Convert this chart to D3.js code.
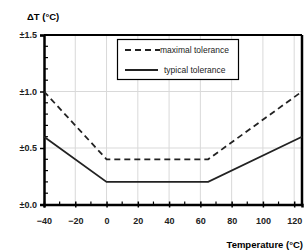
<!DOCTYPE html>
<html><head><meta charset="utf-8">
<script src="https://cdn.jsdelivr.net/npm/d3@7"></script>
<style>body{margin:0;background:#fff}svg{display:block}text{font-family:"Liberation Sans",Arial,sans-serif}</style>
</head><body><svg id="c" width="304" height="250"></svg>
<script>
const temps = [-40, 0, 65, 125];
const maximalTol = [1.0, 0.4, 0.4, 1.0];
const typicalTol = [0.6, 0.2, 0.2, 0.6];
const xTicks = [-40, -20, 0, 20, 40, 60, 80, 100, 120];
const yTicks = [0, 0.5, 1.0, 1.5];
const yTickLabels = ["±0.0", "±0.5", "±1.0", "±1.5"];
const seriesNames = ["maximal tolerance", "typical tolerance"];

const svg = d3.select("#c");
const x = d3.scaleLinear().domain([-40, 125]).range([44, 302]);
const y = d3.scaleLinear().domain([0, 1.5]).range([204.5, 35]);

// gridlines
svg.append("g").selectAll("line").data(xTicks.slice(1)).join("line")
  .attr("x1", d => x(d)).attr("x2", d => x(d)).attr("y1", y(0)).attr("y2", y(1.5))
  .attr("stroke", "#d9d9d9").attr("stroke-width", 1);
svg.append("g").selectAll("line").data([0.5, 1.0]).join("line")
  .attr("x1", x(-40)).attr("x2", x(125)).attr("y1", d => y(d)).attr("y2", d => y(d))
  .attr("stroke", "#d9d9d9").attr("stroke-width", 1);

// frame top/right
svg.append("line").attr("x1", x(-40)).attr("x2", x(125)).attr("y1", y(1.5)).attr("y2", y(1.5)).attr("stroke", "#000").attr("stroke-width", 2);
svg.append("line").attr("x1", x(125)).attr("x2", x(125)).attr("y1", y(1.5)).attr("y2", y(0)).attr("stroke", "#000").attr("stroke-width", 2.5);

// minor ticks
const xMinor = d3.range(-30, 125, 20);
svg.append("g").selectAll("line").data(xMinor).join("line")
  .attr("x1", d => x(d)).attr("x2", d => x(d)).attr("y1", y(0)).attr("y2", y(0) - 3)
  .attr("stroke", "#000").attr("stroke-width", 1.2);
const yMinor = d3.range(0.1, 1.5, 0.1).filter(v => Math.abs(v * 2 - Math.round(v * 2)) > 0.01);
svg.append("g").selectAll("line").data(yMinor).join("line")
  .attr("x1", x(-40)).attr("x2", x(-40) + 4).attr("y1", d => y(d)).attr("y2", d => y(d))
  .attr("stroke", "#000").attr("stroke-width", 1.2);

// axes
const xAxis = svg.append("g").attr("transform", `translate(0,${y(0)})`)
  .call(d3.axisBottom(x).tickValues(xTicks).tickSize(3).tickFormat(d3.format("d")));
const yAxis = svg.append("g").attr("transform", `translate(${x(-40)},0)`)
  .call(d3.axisLeft(y).tickValues(yTicks).tickSize(4).tickFormat((d, i) => yTickLabels[i]));
[xAxis, yAxis].forEach(a => {
  a.select(".domain").attr("stroke", "#000").attr("stroke-width", 2.5);
  a.selectAll(".tick line").attr("stroke", "#000").attr("stroke-width", 1.5);
  a.selectAll(".tick text").attr("font-family", "Liberation Sans, Arial, sans-serif")
    .attr("font-size", 9).attr("font-weight", "bold").attr("fill", "#222");
});
xAxis.selectAll(".tick line").attr("y1", -3);
xAxis.selectAll(".tick text").attr("y", 13).attr("dy", "0.71em");
yAxis.selectAll(".tick text").attr("x", -7);

// lines
const line = d3.line().x(d => x(d[0])).y(d => y(d[1]));
svg.append("path").datum(temps.map((t, i) => [t, maximalTol[i]]))
  .attr("d", line).attr("fill", "none").attr("stroke", "#222").attr("stroke-width", 1.8).attr("stroke-dasharray", "6,4");
svg.append("path").datum(temps.map((t, i) => [t, typicalTol[i]]))
  .attr("d", line).attr("fill", "none").attr("stroke", "#222").attr("stroke-width", 1.8);

// legend
const lg = svg.append("g");
lg.append("rect").attr("x", 117.5).attr("y", 39.5).attr("width", 121).attr("height", 40)
  .attr("fill", "#fff").attr("stroke", "#000").attr("stroke-width", 1.2);
seriesNames.forEach((n, i) => {
  const yy = 50 + i * 20;
  lg.append("line").attr("x1", 125).attr("x2", i === 0 ? 160 : 158).attr("y1", yy).attr("y2", yy)
    .attr("stroke", "#222").attr("stroke-width", 1.8).attr("stroke-dasharray", i === 0 ? "6,4" : null);
  lg.append("text").attr("x", i === 0 ? 160 : 164).attr("y", yy + 3).attr("font-size", 8.5).attr("fill", "#222").text(n);
});

// axis titles
svg.append("text").attr("x", 27).attr("y", 20).attr("font-size", 9.5).attr("font-weight", "bold").text("ΔT (°C)");
svg.append("text").attr("x", 303).attr("y", 248).attr("text-anchor", "end").attr("font-size", 9.5).attr("font-weight", "bold").text("Temperature (°C)");
</script></body></html>
